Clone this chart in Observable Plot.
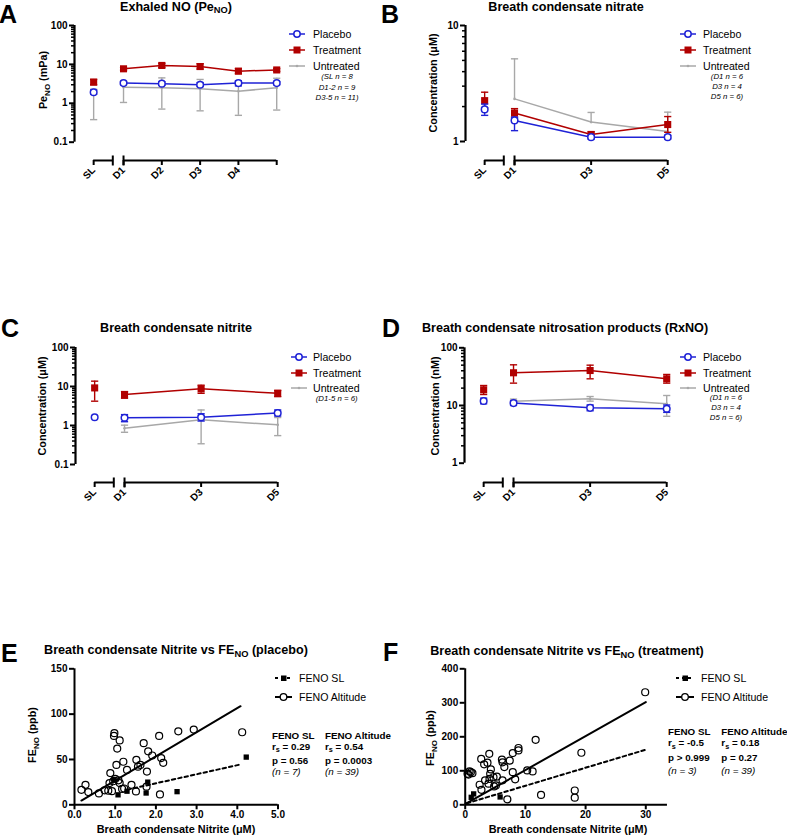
<!DOCTYPE html>
<html>
<head>
<meta charset="utf-8">
<script src="https://cdn.jsdelivr.net/npm/d3@7"></script>
<script src="https://cdn.jsdelivr.net/npm/@observablehq/plot@0.6"></script>
<style>
  body { margin: 0; background: #fff; font-family: Arial, "Liberation Sans", Helvetica, sans-serif; }
  #fig { position: relative; width: 787px; height: 836px; overflow: hidden; background: #fff; }
  .abs { position: absolute; white-space: nowrap; line-height: 1; color: #000; }
  .letter { font-weight: bold; font-size: 25px; }
  .title { font-weight: bold; font-size: 12.6px; }
  .ytitle { font-weight: bold; font-size: 10.8px; }
  .xtitle { font-weight: bold; font-size: 10.9px; }
  .leg { font-size: 10.6px; }
  .ntext { font-style: italic; font-size: 7.8px; }
  .stat { font-weight: bold; font-size: 9.8px; }
  .statn { font-style: italic; font-size: 9.8px; }
  sub { font-size: 0.74em; vertical-align: baseline; position: relative; top: 0.32em; line-height: 0; }
</style>
</head>
<body>
<div id="fig"></div>
<script>
// ---------------- DATA ----------------
const DAYS_A = ["SL", "D1", "D2", "D3", "D4", "D5"];
const TICKS_A = ["SL", "D1", "D2", "D3", "D4", ""];
const DAYS_BCD = ["SL", "D1", "D3", "D5"];
const TICKS_BCD = ["SL", "D1", "D3", "D5"];

// [mean, lower, upper] per day (null = not shown)
const A_placebo   = [[1.93, 1.7, 2.2], [3.3, 3.0, 3.6], [3.2, 2.9, 3.6], [3.0, 2.7, 3.4], [3.3, 2.8, 3.8], [3.3, 3.0, 3.6]];
const A_treatment = [[3.5, 3.0, 4.1], [7.7, 7.1, 8.3], [9.4, 8.3, 10.6], [8.8, 7.6, 10.4], [6.7, 5.8, 7.8], [7.2, 6.6, 7.8]];
const A_untreated = [[2.0, 0.38, 2.3], [2.6, 1.05, 3.8], [2.5, 0.71, 4.5], [2.35, 0.64, 4.1], [2.05, 0.49, 3.6], [2.5, 0.67, 4.4]];

const B_placebo   = [[1.89, 1.68, 2.1], [1.52, 1.24, 1.62], [1.09, 1.05, 1.13], [1.09, 1.05, 1.13]];
const B_treatment = [[2.25, 1.95, 2.66], [1.76, 1.62, 1.92], [1.15, 1.08, 1.21], [1.40, 1.2, 1.64]];
const B_untreated = [null, [2.33, null, 5.16], [1.47, null, 1.78], [1.22, null, 1.79]];

const C_placebo   = [[1.63, null, null], [1.58, 1.25, 1.9], [1.63, 1.3, 2.0], [2.1, 1.75, 2.5]];
const C_treatment = [[9.2, 4.2, 13.7], [6.2, 5.0, 7.4], [8.7, 6.7, 10.8], [6.7, 5.5, 7.9]];
const C_untreated = [null, [0.85, 0.67, 1.02], [1.40, 0.34, 2.5], [1.04, 0.55, 1.6]];

const D_placebo   = [[12.0, 10.7, 13.4], [11.0, 10.0, 12.1], [9.1, 8.1, 10.2], [8.8, 7.6, 10.2]];
const D_treatment = [[18.7, 15.5, 22.2], [36.9, 24.4, 50.7], [40.4, 29, 50], [29, 24.4, 34.5]];
const D_untreated = [null, [11.9, 11.0, 12.9], [13.1, 11.9, 14.3], [10.7, 6.5, 14.9]];

const GROUPS = ["Placebo", "Treatment", "Untreated"];
const A_n = ["(SL n = 8", "D1-2 n = 9", "D3-5 n = 11)"];
const B_n = ["(D1 n = 6", "D3 n = 4", "D5 n = 6)"];
const C_n = ["(D1-5 n = 6)"];
const D_n = ["(D1 n = 6", "D3 n = 4", "D5 n = 6)"];

// Scatter E (placebo)
const E_altX = [0.17, 0.27, 0.34, 0.60, 0.74, 0.83, 0.86, 0.88, 0.92, 0.98, 0.97, 1.03, 1.05, 1.11, 1.00, 1.11, 1.17, 1.20, 1.29, 1.40, 1.51, 1.52, 1.56, 1.70, 1.78, 1.77, 1.81, 1.91, 2.08, 2.10, 2.13, 2.18, 2.55, 2.93, 4.12, 0.95, 1.08, 1.22, 1.62];
const E_altY = [16.5, 22, 14, 12.5, 16, 15.5, 24, 35, 15, 79, 76, 44, 62, 71, 28.5, 24, 17.5, 47.5, 38.5, 22, 14.7, 49.6, 42, 68, 36.7, 20, 59, 54.4, 76, 11.4, 51.5, 46.3, 81, 83, 80, 26, 27, 18, 44];
const E_slX = [0.97, 1.07, 1.29, 1.76, 1.80, 2.52, 4.22];
const E_slY = [28, 11, 15, 13, 25, 14.5, 52.6];
// fitted lines: [slope, intercept, xFrom, xTo]
const E_altFit = [26.6, 0.2, 0.17, 4.08];
const E_slFit = [10.0, 3.7, 1.3, 4.08];

// Scatter F (treatment)
const F_altX = [0.39, 0.55, 0.72, 0.94, 1.2, 2.4, 2.66, 2.7, 3.15, 3.3, 3.7, 3.87, 4.0, 4.04, 4.15, 4.26, 4.7, 4.8, 5.1, 5.26, 6.1, 6.2, 6.2, 6.5, 7.0, 7.4, 7.9, 7.9, 8.3, 8.85, 8.85, 10.3, 11.2, 11.7, 12.6, 18.2, 18.2, 19.3, 29.9];
const F_altY = [91, 89, 98, 96, 93, 59, 135, 44, 119, 72, 124, 62, 150, 76, 91, 104, 81, 54, 57, 83, 133, 125, 72, 111, 16, 130, 152, 96, 75, 167, 160, 101, 98, 191, 29, 42, 21, 153, 331];
const F_slX = [1.0, 1.4, 5.8];
const F_slY = [22, 32, 23];
const F_altFit = [10.0, 2, 0.05, 30];
const F_slFit = [5.3, 3, 0.3, 30];

const E_stats = [["FENO SL", "r<sub>s</sub> = 0.29", "p = 0.56", "(n = 7)"], ["FENO Altitude", "r<sub>s</sub> = 0.54", "p = 0.0003", "(n = 39)"]];
const F_stats = [["FENO SL", "r<sub>s</sub> = -0.5", "p > 0.999", "(n = 3)"], ["FENO Altitude", "r<sub>s</sub> = 0.18", "p = 0.27", "(n = 39)"]];

// ---------------- STYLE / HELPERS ----------------
const BLUE = "#1f22d6", RED = "#b10000", GRAY = "#a8a8a8";
const FONT = "Arial, 'Liberation Sans', Helvetica, sans-serif";
const SL_POS = 0.22, BREAK_POS = 0.72;
const fig = document.getElementById("fig");

function dayPos(d) { return d === "SL" ? SL_POS : +d.slice(1); }

function label(html, x, y, cls, align = "left", rotate = false) {
  const d = document.createElement("div");
  d.className = "abs " + cls;
  d.innerHTML = html;
  d.style.left = x + "px";
  d.style.top = y + "px";
  const tx = align === "center" ? "-50%" : align === "right" ? "-100%" : "0";
  d.style.transform = rotate ? "translate(-50%,-50%) rotate(-90deg)" : `translate(${tx},-50%)`;
  fig.appendChild(d);
}

function place(node, left, top) {
  const d = document.createElement("div");
  d.style.position = "absolute";
  d.style.left = left + "px";
  d.style.top = top + "px";
  d.appendChild(node);
  fig.appendChild(d);
}

const hbar = {draw(ctx, size) { const r = Math.sqrt(size / Math.PI); ctx.moveTo(-r, 0); ctx.lineTo(r, 0); }};
const vbar = {draw(ctx, size) { const r = Math.sqrt(size / Math.PI); ctx.moveTo(0, -r); ctx.lineTo(0, r); }};

function rowsOf(days, triples) {
  return days.map((d, i) => {
    const t = triples[i];
    return t ? {day: d, x: dayPos(d), m: t[0], lo: t[1], hi: t[2]} : null;
  }).filter(Boolean);
}

function seriesMarks(days, triples, kind) {
  const color = kind === "Placebo" ? BLUE : kind === "Treatment" ? RED : GRAY;
  const rs = rowsOf(days, triples);
  const marks = [];
  const errs = rs.filter(r => r.lo != null || r.hi != null);
  marks.push(Plot.ruleX(errs, {x: "x", y1: r => r.lo ?? r.m, y2: r => r.hi ?? r.m, stroke: color, strokeWidth: 1.4}));
  marks.push(Plot.dot(rs.filter(r => r.hi != null), {x: "x", y: "hi", symbol: hbar, r: 3.6, stroke: color, strokeWidth: 1.4, fill: "none"}));
  marks.push(Plot.dot(rs.filter(r => r.lo != null), {x: "x", y: "lo", symbol: hbar, r: 3.6, stroke: color, strokeWidth: 1.4, fill: "none"}));
  marks.push(Plot.line(rs.filter(r => r.day !== "SL"), {x: "x", y: "m", stroke: color, strokeWidth: 1.5}));
  if (kind === "Placebo") marks.push(Plot.dot(rs, {x: "x", y: "m", r: 3.3, stroke: color, strokeWidth: 1.5, fill: "white"}));
  else if (kind === "Treatment") marks.push(Plot.dot(rs, {x: "x", y: "m", symbol: "square", r: 4, fill: color}));
  else marks.push(Plot.dot(rs, {x: "x", y: "m", r: 1.3, fill: color}));
  return marks;
}

function timePanel(o) {
  const pxDay = 38.3, H = 200, frameBottom = 160, mr = 14;
  const W = o.ml + pxDay * (5 - o.xMin) + mr;
  const gap = frameBottom - o.yBottom;
  const [lo, hi] = o.yDomain;
  const tickPos = o.days.map(dayPos);
  const marks = [
    Plot.ruleX([o.xMin], {y1: lo, y2: hi, strokeWidth: 2.2}),
    Plot.axisY({ticks: o.minors, tickSize: 3, tickFormat: () => "", strokeWidth: 1.5, label: null}),
    Plot.axisY({ticks: o.majors, tickSize: 5, tickPadding: 2, tickFormat: d => String(d), strokeWidth: 2, label: null}),
    Plot.axisX({ticks: tickPos, tickFormat: d => o.tickLabels[tickPos.indexOf(d)], tickRotate: -45, tickSize: 5, tickPadding: 3, strokeWidth: 2, label: null}),
    Plot.ruleY([{a: SL_POS, b: BREAK_POS}, {a: 1, b: 5}], {x1: "a", x2: "b", y: lo, dy: gap, strokeWidth: 2}),
    Plot.dot([BREAK_POS, 1], {x: d => d, y: lo, dy: gap, symbol: vbar, r: 5, stroke: "black", strokeWidth: 2, fill: "none"}),
    ...seriesMarks(o.days, o.untreated, "Untreated"),
    ...seriesMarks(o.days, o.treatment, "Treatment"),
    ...seriesMarks(o.days, o.placebo, "Placebo")
  ];
  const svg = Plot.plot({
    width: W, height: H,
    marginLeft: o.ml, marginRight: mr, marginTop: 20, marginBottom: H - frameBottom,
    x: {domain: [o.xMin, 5]},
    y: {type: "log", domain: o.yDomain, range: [o.yBottom, o.yTop]},
    style: {fontFamily: FONT, fontSize: "10px", fontWeight: "bold", background: "transparent", overflow: "visible", color: "black"},
    marks
  });
  place(svg, o.left, o.top);
}

function scatterPanel(o) {
  const H = 170, mt = 13.3, mb = 20.7;
  const pw = o.pxUnit * (o.xDomain[1] - o.xDomain[0]);
  const W = o.ml + pw + 20;
  const alt = o.altX.map((x, i) => ({x, y: o.altY[i]}));
  const sl = o.slX.map((x, i) => ({x, y: o.slY[i]}));
  const fitRows = f => [f[2], f[3]].map(x => ({x, y: f[1] + f[0] * x}));
  const svg = Plot.plot({
    width: W, height: H,
    marginLeft: o.ml, marginRight: 20, marginTop: mt, marginBottom: mb,
    x: {domain: o.xDomain}, y: {domain: o.yDomain},
    style: {fontFamily: FONT, fontSize: "10px", fontWeight: "bold", background: "transparent", overflow: "visible", color: "black"},
    marks: [
      Plot.ruleY([o.yDomain[0]], {strokeWidth: 2}),
      Plot.ruleX([o.xDomain[0]], {strokeWidth: 2}),
      Plot.axisX({ticks: o.xTicks, tickSize: 5, tickPadding: 1, strokeWidth: 2, label: null}),
      Plot.axisY({ticks: o.yTicks, tickSize: 5, tickPadding: 2, strokeWidth: 2, label: null}),
      Plot.line(fitRows(o.slFit), {x: "x", y: "y", strokeWidth: 2, strokeDasharray: "3.5,3"}),
      Plot.line(fitRows(o.altFit), {x: "x", y: "y", strokeWidth: 2}),
      Plot.dot(alt, {x: "x", y: "y", r: 3.5, stroke: "black", strokeWidth: 1.2, fill: "none"}),
      Plot.dot(sl, {x: "x", y: "y", symbol: "square", r: 3, fill: "black"})
    ]
  });
  place(svg, o.left, o.top);
}

function swatch(kind, w) {
  const h = 12, c = 6, m = w / 2;
  let s = "";
  if (kind === "Placebo") s = `<line x1="0" x2="${w}" y1="${c}" y2="${c}" stroke="${BLUE}" stroke-width="1.5"/><circle cx="${m}" cy="${c}" r="3.2" fill="#fff" stroke="${BLUE}" stroke-width="1.5"/>`;
  else if (kind === "Treatment") s = `<line x1="0" x2="${w}" y1="${c}" y2="${c}" stroke="${RED}" stroke-width="1.5"/><rect x="${m - 3.5}" y="${c - 3.5}" width="7" height="7" fill="${RED}"/>`;
  else if (kind === "Untreated") s = `<line x1="0" x2="${w}" y1="${c}" y2="${c}" stroke="${GRAY}" stroke-width="1.5"/><circle cx="${m}" cy="${c}" r="1.3" fill="${GRAY}"/>`;
  else if (kind === "SL") s = `<line x1="0" x2="${w}" y1="${c}" y2="${c}" stroke="#000" stroke-width="2" stroke-dasharray="3,3"/><rect x="${m - 2.5}" y="${c - 2.5}" width="5.5" height="5.5" fill="#000"/>`;
  else s = `<line x1="0" x2="${w}" y1="${c}" y2="${c}" stroke="#000" stroke-width="2"/><circle cx="${m}" cy="${c}" r="3.3" fill="#fff" stroke="#000" stroke-width="1.3"/>`;
  const d = document.createElement("div");
  d.innerHTML = `<svg width="${w}" height="${h}" style="display:block">${s}</svg>`;
  return d.firstChild;
}

function timeLegend(sx, tx, ys, nx, nLines, nTop, nStep) {
  GROUPS.forEach((g, i) => {
    place(swatch(g, 16), sx, ys[i] - 6);
    label(g, tx, ys[i], "leg");
  });
  nLines.forEach((t, i) => label(t, nx, nTop + i * nStep, "ntext", "center"));
}

// ---------------- PANELS ----------------
const MINOR_3 = [0.2, 0.3, 0.4, 0.5, 0.6, 0.7, 0.8, 0.9, 2, 3, 4, 5, 6, 7, 8, 9, 20, 30, 40, 50, 60, 70, 80, 90];
const MINOR_1 = [2, 3, 4, 5, 6, 7, 8, 9];
const MINOR_2 = [2, 3, 4, 5, 6, 7, 8, 9, 20, 30, 40, 50, 60, 70, 80, 90];

timePanel({left: 0, top: 0, ml: 74, xMin: -0.28, yDomain: [0.1, 100], yBottom: 141.7, yTop: 25,
  majors: [0.1, 1, 10, 100], minors: MINOR_3, days: DAYS_A, tickLabels: TICKS_A,
  placebo: A_placebo, treatment: A_treatment, untreated: A_untreated});
timePanel({left: 393, top: 0, ml: 72, xMin: -0.28, yDomain: [1, 10], yBottom: 141, yTop: 25,
  majors: [1, 10], minors: MINOR_1, days: DAYS_BCD, tickLabels: TICKS_BCD,
  placebo: B_placebo, treatment: B_treatment, untreated: B_untreated});
timePanel({left: 0, top: 322, ml: 75, xMin: -0.28, yDomain: [0.1, 100], yBottom: 142, yTop: 25,
  majors: [0.1, 1, 10, 100], minors: MINOR_3, days: DAYS_BCD, tickLabels: TICKS_BCD,
  placebo: C_placebo, treatment: C_treatment, untreated: C_untreated});
timePanel({left: 393, top: 322, ml: 71, xMin: -0.28, yDomain: [1, 100], yBottom: 140.7, yTop: 25.3,
  majors: [1, 10, 100], minors: MINOR_2, days: DAYS_BCD, tickLabels: TICKS_BCD,
  placebo: D_placebo, treatment: D_treatment, untreated: D_untreated});

scatterPanel({left: 0, top: 655, ml: 74, pxUnit: 40.7, xDomain: [0, 5], yDomain: [0, 150],
  xTicks: [0, 1, 2, 3, 4, 5], yTicks: [0, 50, 100, 150],
  altX: E_altX, altY: E_altY, slX: E_slX, slY: E_slY, altFit: E_altFit, slFit: E_slFit});
scatterPanel({left: 393, top: 655, ml: 71.7, pxUnit: 6.02, xDomain: [0, 33.6], yDomain: [0, 400],
  xTicks: [0, 10, 20, 30], yTicks: [0, 100, 200, 300, 400],
  altX: F_altX, altY: F_altY, slX: F_slX, slY: F_slY, altFit: F_altFit, slFit: F_slFit});

// ---------------- TEXT ----------------
label("A", -1, 14, "letter");
label("B", 381, 14, "letter");
label("C", 1, 328, "letter");
label("D", 382, 328, "letter");
label("E", 1, 652.5, "letter");
label("F", 383, 652, "letter");

label("Exhaled NO (Pe<sub>NO</sub>)", 176, 6.5, "title", "center");
label("Breath condensate nitrate", 566, 6.5, "title", "center");
label("Breath condensate nitrite", 176, 327.7, "title", "center");
label("Breath condensate nitrosation products (RxNO)", 565, 327.7, "title", "center");
label("Breath condensate Nitrite vs FE<sub>NO</sub> (placebo)", 176, 650, "title", "center");
label("Breath condensate Nitrite vs FE<sub>NO</sub> (treatment)", 567, 651, "title", "center");

label("Pe<sub>NO</sub> (mPa)", 42.7, 80, "ytitle", "center", true);
label("Concentration (μM)", 433, 83, "ytitle", "center", true);
label("Concentration (μM)", 41.7, 406, "ytitle", "center", true);
label("Concentration (nM)", 434.7, 406, "ytitle", "center", true);
label("FE<sub>NO</sub> (ppb)", 31.7, 735, "ytitle", "center", true);
label("FE<sub>NO</sub> (ppb)", 429.7, 738, "ytitle", "center", true);

label("Breath condensate Nitrite (μM)", 176, 829, "xtitle", "center");
label("Breath condensate Nitrite (μM)", 568, 829, "xtitle", "center");

timeLegend(289, 313, [34, 50, 66], 337, A_n, 77.3, 10.5);
timeLegend(680, 703, [34, 50, 66], 727, B_n, 77.3, 10);
timeLegend(291, 313, [357, 372.7, 388.3], 336.7, C_n, 399.3, 10);
timeLegend(680, 703, [357, 372.7, 388], 726, D_n, 397.7, 10.3);

function scatterLegend(sx, tx, ys, w) {
  place(swatch("SL", w), sx, ys[0] - 6);
  label("FENO SL", tx, ys[0], "leg");
  place(swatch("Alt", w), sx, ys[1] - 6);
  label("FENO Altitude", tx, ys[1], "leg");
}
scatterLegend(275, 299, [678.3, 696.7], 17);
scatterLegend(676, 701, [677.7, 696.7], 18);

function statBlock(stats, xs, ys) {
  stats.forEach((col, c) => col.forEach((t, r) => label(t, xs[c], ys[r], r === 3 ? "statn" : "stat")));
}
statBlock(E_stats, [272, 325], [735.7, 747, 761, 772.3]);
statBlock(F_stats, [668, 721.3], [732.3, 743.3, 757.7, 770.7]);
</script>
</body>
</html>
